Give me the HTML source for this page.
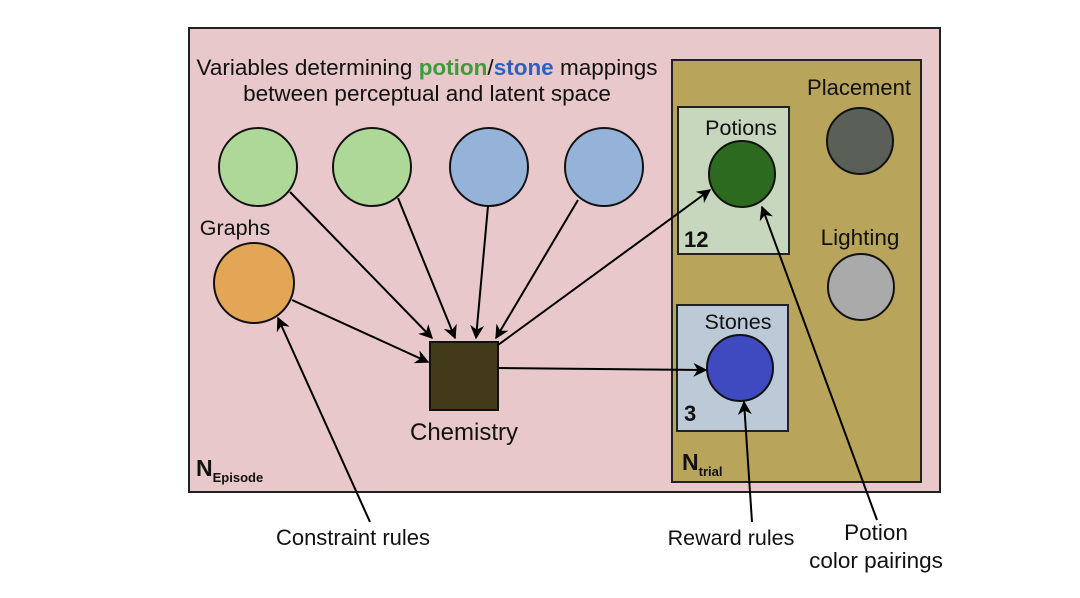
<!DOCTYPE html>
<html><head><style>body{margin:0;background:#fff}svg{display:block}text{font-family:"Liberation Sans",sans-serif;fill:#111}</style></head><body>
<svg width="1080" height="598" viewBox="0 0 1080 598">
<defs><marker id="a" viewBox="0 0 10 10" refX="9" refY="5" markerWidth="7" markerHeight="7" orient="auto"><path d="M0,0 L10,5 L0,10 L3,5z" fill="#000"/></marker></defs>
<rect x="189" y="28" width="751" height="464" fill="#e8c8ca" stroke="#222" stroke-width="2"/>
<rect x="672" y="60" width="249" height="422" fill="#b8a45a" stroke="#222" stroke-width="2"/>
<rect x="678" y="107" width="111" height="147" fill="#c6d7bd" stroke="#222" stroke-width="2"/>
<rect x="677" y="305" width="111" height="126" fill="#bccad8" stroke="#222" stroke-width="2"/>
<text x="427" y="75" font-size="22.5" text-anchor="middle">Variables determining <tspan font-weight="bold" style="fill:#3f9a3a">potion</tspan>/<tspan font-weight="bold" style="fill:#2f5fc0">stone</tspan> mappings</text>
<text x="427" y="101" font-size="22.5" text-anchor="middle">between perceptual and latent space</text>
<g stroke="#111" stroke-width="2">
<circle cx="258" cy="167" r="39" fill="#aed898"/>
<circle cx="372" cy="167" r="39" fill="#aed898"/>
<circle cx="489" cy="167" r="39" fill="#95b3d9"/>
<circle cx="604" cy="167" r="39" fill="#95b3d9"/>
<circle cx="254" cy="283" r="40" fill="#e2a656"/>
<circle cx="742" cy="174" r="33" fill="#2c6b1f"/>
<circle cx="740" cy="368" r="33" fill="#3f49c0"/>
<circle cx="860" cy="141" r="33" fill="#5a5f58"/>
<circle cx="861" cy="287" r="33" fill="#aaaaaa"/>
<rect x="430" y="342" width="68" height="68" fill="#433a1a"/>
</g>
<g stroke="#000" stroke-width="2" marker-end="url(#a)">
<line x1="290" y1="192" x2="432" y2="338"/>
<line x1="398" y1="198" x2="455" y2="338"/>
<line x1="488" y1="206" x2="476" y2="338"/>
<line x1="578" y1="200" x2="496" y2="338"/>
<line x1="292" y1="300" x2="428" y2="362"/>
<line x1="498" y1="345" x2="710" y2="190"/>
<line x1="498" y1="368" x2="706" y2="370"/>
<line x1="370" y1="522" x2="278" y2="318"/>
<line x1="752" y1="522" x2="744" y2="402"/>
<line x1="877" y1="520" x2="762" y2="207"/>
</g>
<text x="235" y="235" font-size="21.5" text-anchor="middle">Graphs</text>
<text x="464" y="440" font-size="24" text-anchor="middle">Chemistry</text>
<text x="741" y="135" font-size="21.5" text-anchor="middle">Potions</text>
<text x="738" y="329" font-size="21.5" text-anchor="middle">Stones</text>
<text x="859" y="95" font-size="22" text-anchor="middle">Placement</text>
<text x="860" y="245" font-size="22.5" text-anchor="middle">Lighting</text>
<text x="684" y="247" font-size="22" font-weight="bold">12</text>
<text x="684" y="421" font-size="22" font-weight="bold">3</text>
<text x="196" y="476" font-size="23" font-weight="bold">N<tspan font-size="13" dy="6">Episode</tspan></text>
<text x="682" y="470" font-size="23" font-weight="bold">N<tspan font-size="13" dy="6">trial</tspan></text>
<text x="353" y="545" font-size="22" text-anchor="middle">Constraint rules</text>
<text x="731" y="545" font-size="21.5" text-anchor="middle">Reward rules</text>
<text x="876" y="540" font-size="22.5" text-anchor="middle">Potion</text>
<text x="876" y="568" font-size="22.5" text-anchor="middle">color pairings</text>
</svg>
</body></html>
